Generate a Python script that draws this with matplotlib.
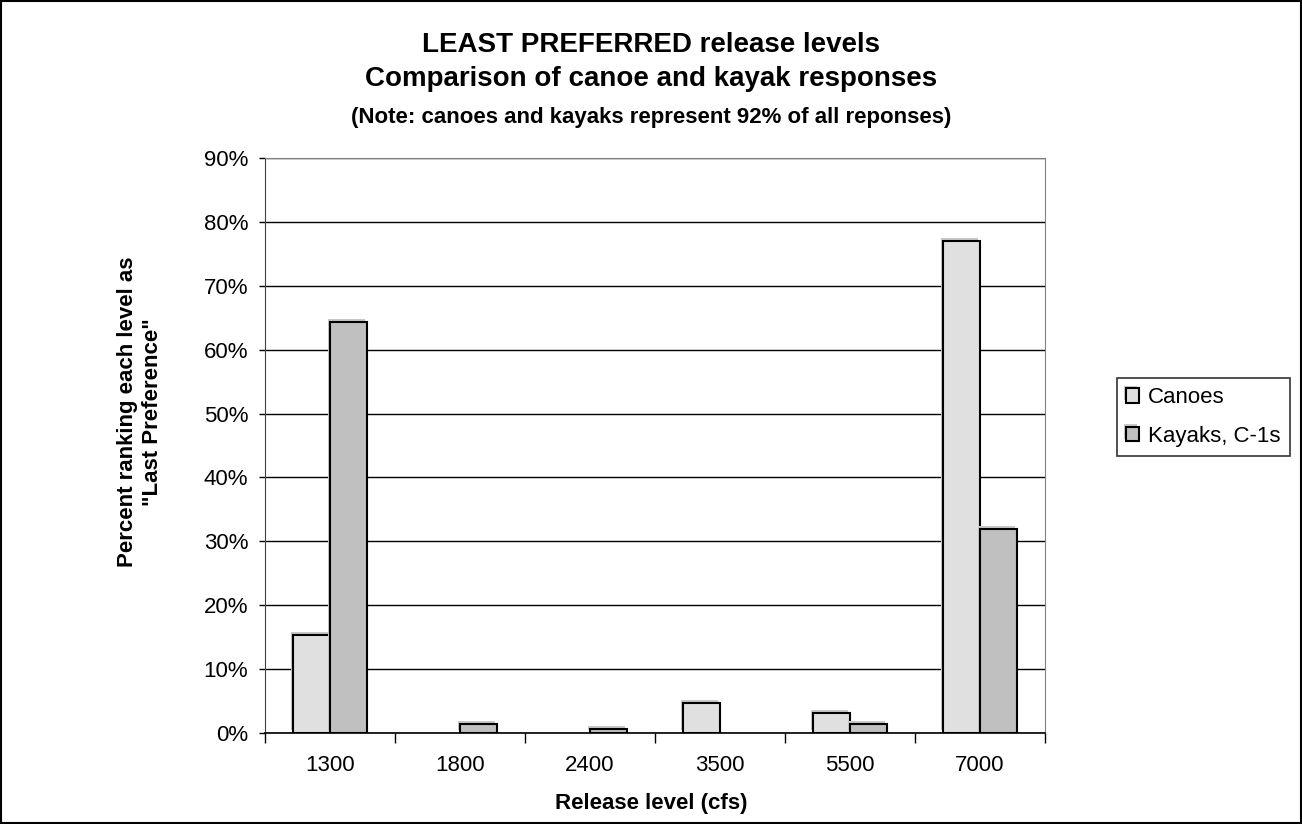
import numpy as np
import matplotlib.pyplot as plt
import matplotlib.patheffects as pe
from matplotlib.ticker import FixedLocator, NullFormatter

# release levels and share of "last preference" rankings (%)
levels = ["1300", "1800", "2400", "3500", "5500", "7000"]
canoes = [15.4, 0.0, 0.0, 4.7, 3.1, 77.0]
kayaks = [64.4, 1.4, 0.7, 0.0, 1.4, 32.0]

plt.rcParams['font.family'] = ['Liberation Sans', 'DejaVu Sans']

fig = plt.figure(figsize=(13.02, 8.24), dpi=100)
ax = fig.add_axes([0.2035, 0.1104, 0.5991, 0.6979])

x = np.arange(len(levels))
w = 0.285
shadow = [pe.SimplePatchShadow(offset=(-1.5, 2), shadow_rgbFace='#c8c8c8', alpha=1), pe.Normal()]
edge = dict(edgecolor='black', linewidth=1.5, zorder=3)
b1 = ax.bar(x - w / 2, canoes, w, color='#e0e0e0', label='Canoes', **edge)
b2 = ax.bar(x + w / 2, kayaks, w, color='#c0c0c0', label='Kayaks, C-1s', **edge)
for bars, vals in ((b1, canoes), (b2, kayaks)):
    for b, v in zip(bars, vals):
        if v == 0:
            b.set_visible(False)   # no empty bars
        else:
            b.set_path_effects(shadow)

ax.set_xlim(-0.5, len(levels) - 0.5)
ax.set_ylim(0, 90)
ax.set_yticks(np.arange(0, 91, 10))
ax.set_yticklabels([f"{v}%" for v in range(0, 91, 10)], fontsize=16)
ax.yaxis.grid(True, color='black', linewidth=1)
ax.set_axisbelow(True)

ax.set_xticks(x)
ax.set_xticklabels(levels, fontsize=16)
ax.tick_params(axis='x', length=0, pad=16)
ax.xaxis.set_minor_locator(FixedLocator(np.arange(-0.5, len(levels), 1)))
ax.xaxis.set_minor_formatter(NullFormatter())
ax.tick_params(axis='x', which='minor', length=7, width=1, color='black')
ax.tick_params(axis='y', length=4, width=1, color='black', pad=8)

for side in ('top', 'right'):
    ax.spines[side].set_color('#808080')
ax.spines['left'].set_color('#404040')
ax.spines['bottom'].set_color('black')
ax.spines['bottom'].set_linewidth(1.2)

fig.text(0.5, 1 - 803 / 824, "Release level (cfs)", ha='center', va='center',
         fontsize=16, fontweight='bold')
fig.text(140 / 1302, 0.5, "Percent ranking each level as\n\"Last Preference\"",
         ha='center', va='center', rotation=90, fontsize=16, fontweight='bold',
         linespacing=1.25)

fig.text(0.5, 1 - 45 / 824, "LEAST PREFERRED release levels", ha='center', va='center',
         fontsize=20, fontweight='bold')
fig.text(0.5, 1 - 79 / 824, "Comparison of canoe and kayak responses", ha='center',
         va='center', fontsize=20, fontweight='bold')
fig.text(0.5, 1 - 118 / 824, "(Note: canoes and kayaks represent 92% of all reponses)",
         ha='center', va='center', fontsize=16, fontweight='bold')

leg = fig.legend(handles=[b1, b2], loc='lower left',
                 bbox_to_anchor=(1117 / 1302, 1 - 456 / 824),
                 fontsize=16, frameon=True, fancybox=False, edgecolor='black',
                 handlelength=0.6, handleheight=0.6, handletextpad=0.4,
                 borderpad=0.4, labelspacing=0.8, borderaxespad=0)
leg.get_frame().set_linewidth(1.2)

# outer chart border
fig.patches.append(plt.Rectangle((0.001, 0.001), 0.998, 0.998, transform=fig.transFigure,
                                 fill=False, edgecolor='black', linewidth=1.5))

fig.savefig("out.png", dpi=100)
